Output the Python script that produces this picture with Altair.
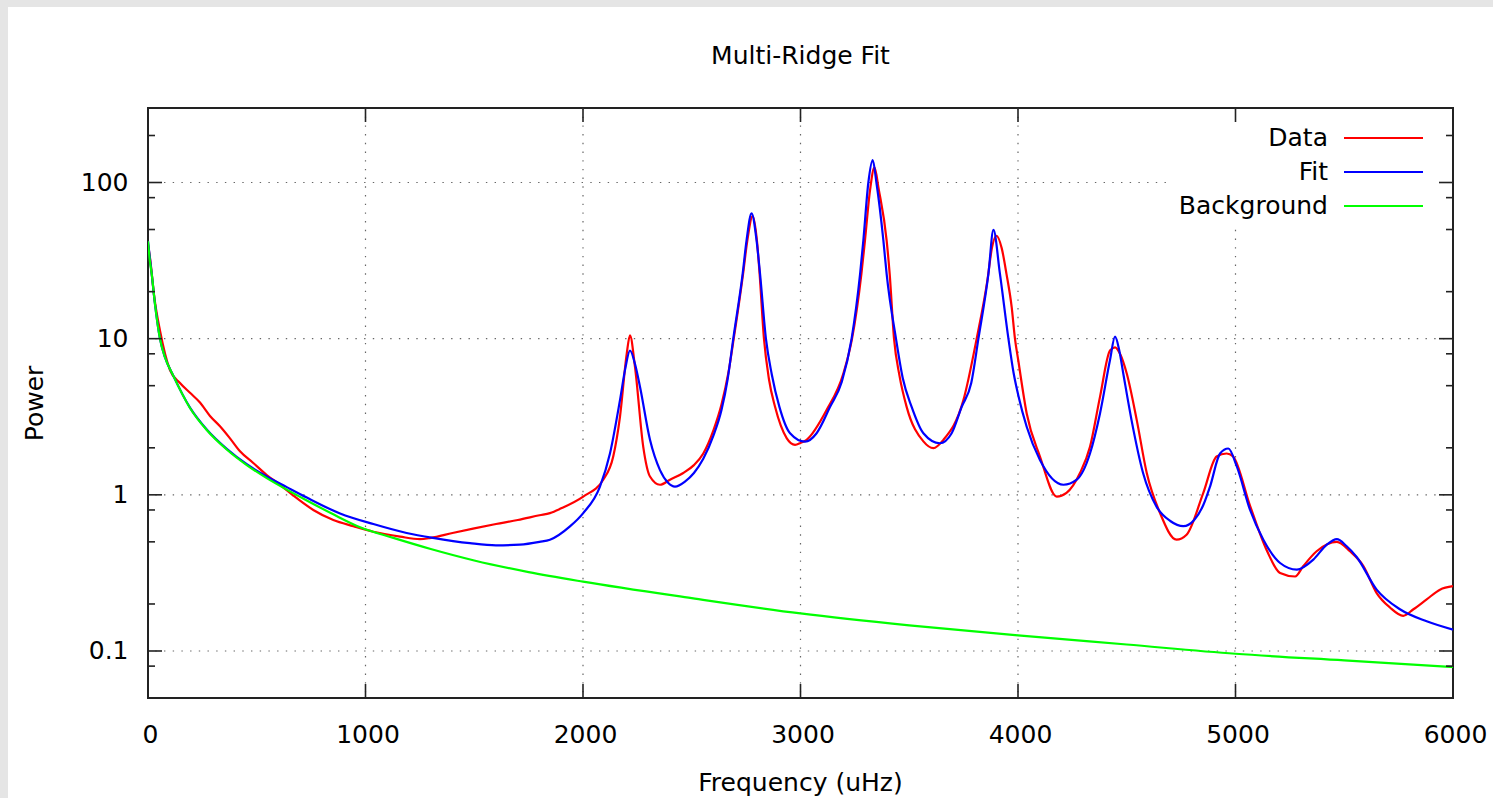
import altair as alt
import pandas as pd

TITLE = "Multi-Ridge Fit"
X_TITLE = "Frequency (uHz)"
Y_TITLE = "Power"
SERIES = ["Data", "Fit", "Background"]
COLORS = ["#ff0000", "#0000ff", "#00ff00"]

X_TICKS = [0, 1000, 2000, 3000, 4000, 5000, 6000]
Y_TICKS = [0.1, 1, 10, 100]
Y_MINOR = [0.08, 0.2, 0.5, 0.8, 2, 5, 8, 20, 50, 80, 200]
X_DOMAIN = [0, 6000]
Y_DOMAIN = [0.05, 300]

data_freq = [0, 9, 30, 55, 101, 147, 193, 239, 285, 331,
             377, 423, 484, 546, 607, 668, 760, 852, 944, 1036,
             1159, 1250, 1300, 1400, 1500, 1600, 1700, 1800, 1848, 1900,
             2001, 2093, 2139, 2170, 2201, 2216, 2239, 2277, 2308, 2354,
             2400, 2461, 2510, 2553, 2600, 2637, 2668, 2693, 2736, 2755,
             2780, 2800, 2812, 2832, 2855, 2883, 2937, 2975, 3000, 3028,
             3120, 3197, 3237, 3280, 3296, 3320, 3340, 3360, 3396, 3410,
             3430, 3455, 3488, 3565, 3611, 3657, 3749, 3810, 3860, 3880,
             3901, 3925, 3947, 3971, 3986, 4001, 4040, 4101, 4178, 4223,
             4285, 4331, 4377, 4423, 4446, 4469, 4500, 4546, 4592, 4653,
             4729, 4775, 4852, 4913, 4959, 4989, 5067, 5144, 5205, 5274,
             5312, 5373, 5466, 5526, 5588, 5649, 5710, 5771, 5818, 5879,
             5940, 6000]
data_power = [40, 33, 18, 11.3, 6.3, 5.2, 4.5, 3.9, 3.2, 2.75,
              2.3, 1.9, 1.6, 1.34, 1.16, 0.99, 0.80, 0.69, 0.63, 0.58,
              0.54, 0.52, 0.53, 0.57, 0.61, 0.65, 0.69, 0.74, 0.764, 0.82,
              0.975, 1.25, 1.76, 3.16, 8.0, 10.5, 6.6, 2.03, 1.31, 1.16,
              1.25, 1.38, 1.55, 1.84, 2.6, 3.8, 6.0, 10, 26, 42,
              61, 42, 26, 10, 5.5, 3.66, 2.3, 2.09, 2.15, 2.25,
              3.49, 5.98, 10, 26, 42, 90, 125, 90, 42.6, 26,
              10, 5.8, 3.66, 2.2, 1.99, 2.25, 4.04, 10, 24, 38,
              45.6, 38, 26, 15.9, 10, 7.3, 3.32, 1.76, 0.975, 1.03,
              1.38, 2.03, 4.24, 8.4, 8.8, 8.0, 5.98, 3.01, 1.38, 0.764,
              0.516, 0.555, 1.03, 1.76, 1.84, 1.76, 0.85, 0.44, 0.316, 0.30,
              0.35, 0.435, 0.50, 0.435, 0.35, 0.235, 0.19, 0.168, 0.185, 0.214,
              0.247, 0.26]

fit_freq = [0, 17, 32, 55, 78, 116, 193, 270, 362, 454,
            546, 638, 730, 883, 1036, 1189, 1310, 1480, 1600, 1710,
            1800, 1848, 1940, 2001, 2078, 2124, 2170, 2195, 2216, 2240,
            2262, 2308, 2354, 2390, 2423, 2470, 2510, 2553, 2600, 2637,
            2665, 2691, 2734, 2752, 2775, 2798, 2814, 2841, 2868, 2903,
            2952, 3021, 3074, 3136, 3190, 3235, 3274, 3289, 3312, 3332,
            3349, 3381, 3396, 3439, 3470, 3511, 3565, 3641, 3695, 3741,
            3785, 3818, 3864, 3887, 3917, 3956, 3980, 4002, 4040, 4101,
            4209, 4270, 4331, 4377, 4423, 4446, 4465, 4484, 4522, 4575,
            4637, 4700, 4760, 4810, 4852, 4883, 4929, 4967, 5006, 5067,
            5128, 5205, 5282, 5358, 5420, 5466, 5510, 5557, 5649, 5756,
            5879, 6000]
fit_power = [42, 26, 16.7, 10, 7.6, 5.8, 3.62, 2.62, 1.97, 1.57,
             1.31, 1.12, 0.96, 0.76, 0.65, 0.57, 0.53, 0.49, 0.475, 0.48,
             0.50, 0.516, 0.628, 0.764, 1.13, 1.84, 4.04, 6.5, 8.4, 6.8,
             4.92, 2.25, 1.44, 1.2, 1.13, 1.22, 1.38, 1.7, 2.4, 3.5,
             5.5, 10, 26, 42.6, 63.5, 42.6, 26, 10, 5.9, 3.66,
             2.48, 2.19, 2.48, 3.66, 5.3, 10, 26, 42.6, 100, 139,
             100, 42.6, 26, 10, 5.6, 3.66, 2.48, 2.14, 2.48, 3.66,
             5.2, 10, 26, 49.7, 26, 10, 6.0, 4.3, 2.73, 1.67,
             1.16, 1.25, 1.84, 3.32, 7.3, 10.3, 8.5, 5.98, 3.01, 1.38,
             0.84, 0.68, 0.63, 0.69, 0.86, 1.13, 1.84, 1.98, 1.52, 0.80,
             0.516, 0.366, 0.332, 0.385, 0.48, 0.52, 0.47, 0.40, 0.247, 0.185,
             0.155, 0.137]

bg_freq = [0, 8, 17, 32, 55, 78, 116, 193, 270, 362,
           454, 546, 638, 730, 852, 975, 1128, 1300, 1500, 1750,
           2000, 2500, 3000, 3500, 4000, 4500, 5000, 5500, 6000]
bg_power = [42, 32, 26, 16.7, 10, 7.6, 5.8, 3.6, 2.6, 1.95,
            1.55, 1.28, 1.08, 0.92, 0.75, 0.62, 0.53, 0.45, 0.38, 0.32,
            0.278, 0.218, 0.174, 0.146, 0.126, 0.11, 0.096, 0.087, 0.079]

FONT = "DejaVu Sans"
FS = 25
W, H = 1305, 590
PAD = {"left": 148, "top": 108, "right": 40, "bottom": 100}
TICK_COLOR = "#222222"
GRID_COLOR = "#666666"

xscale = alt.Scale(domain=X_DOMAIN, nice=False, zero=False)
yscale = alt.Scale(type="log", domain=Y_DOMAIN, nice=False)
cscale = alt.Scale(domain=SERIES, range=COLORS)

common_axis = dict(grid=False, ticks=False, tickSize=0, domain=False, zindex=1,
                   labelFont=FONT, labelFontSize=FS, labelColor="black",
                   titleFont=FONT, titleFontSize=FS, titleFontWeight="normal",
                   titleColor="black", labelFlush=False, labelOverlap=False)
x_axis = alt.Axis(values=X_TICKS, format="d", title=X_TITLE, labelPadding=44,
                  labelBaseline="alphabetic", labelOffset=2, titleX=652, titleY=92,
                  titleBaseline="alphabetic", titleAlign="center", **common_axis)
y_axis = alt.Axis(values=Y_TICKS, format="~g", title=Y_TITLE, labelPadding=20,
                  titleX=-106, titleY=295, titleAngle=270,
                  titleBaseline="alphabetic", titleAlign="center", **common_axis)


def one():
    return pd.DataFrame({"k": [0]})


def deco_rect(x, x2, y, y2, color):
    return alt.Chart(one()).mark_rect(color=color).encode(
        x=alt.value(x), x2=alt.value(x2), y=alt.value(y), y2=alt.value(y2))


def X(field):
    return alt.X(field, type="quantitative", scale=xscale, axis=x_axis)


def Y(field):
    return alt.Y(field, type="quantitative", scale=yscale, axis=y_axis)


def series_df(name, f, p):
    return pd.DataFrame({"freq": f, "power": p, "series": [name] * len(f)})


def line_layer(df):
    return alt.Chart(df).mark_line(strokeWidth=2.2, clip=True, interpolate="monotone").encode(
        x=X("freq"), y=Y("power"),
        color=alt.Color("series:N", scale=cscale, legend=None),
    )


gray_left = deco_rect(-148, -140, -108, 690, "#e5e5e5")
gray_top = deco_rect(-148, 1345, -108, -101, "#e5e5e5")

grid_dash = [1.4, 7.3]
vgrid = alt.Chart(pd.DataFrame({"v": X_TICKS[1:-1]})).mark_rule(
    color=GRID_COLOR, strokeWidth=1.2, strokeDash=grid_dash).encode(x=X("v"))
hgrid = alt.Chart(pd.DataFrame({"v": Y_TICKS})).mark_rule(
    color=GRID_COLOR, strokeWidth=1.2, strokeDash=grid_dash).encode(y=Y("v"))

key_clear = deco_rect(1019, 1303, 2, 117, "white")

data_line = line_layer(series_df("Data", data_freq, data_power))
fit_line = line_layer(series_df("Fit", fit_freq, fit_power))
bg_line = line_layer(series_df("Background", bg_freq, bg_power))

xt = pd.DataFrame({"v": X_TICKS})
yt = pd.DataFrame({"v": Y_TICKS})
ym = pd.DataFrame({"v": Y_MINOR})


def xtick(y, y2):
    return alt.Chart(xt).mark_rule(color=TICK_COLOR, strokeWidth=1.6).encode(
        x=X("v"), y=alt.value(y), y2=alt.value(y2))


def ytick(df, x, x2):
    return alt.Chart(df).mark_rule(color=TICK_COLOR, strokeWidth=1.6).encode(
        y=Y("v"), x=alt.value(x), x2=alt.value(x2))


ticks = [
    xtick(H - 14, H), xtick(0, 14),
    ytick(yt, 0, 14), ytick(yt, W - 14, W),
    ytick(ym, 0, 7), ytick(ym, W - 7, W),
]

# key (gnuplot style: label on the left, line sample on the right)
key_layers = []
for i, name in enumerate(SERIES):
    kdf = pd.DataFrame({"series": [name]})
    ky = 30 + 34 * i
    key_layers.append(
        alt.Chart(kdf).mark_text(align="right", baseline="middle", font=FONT,
                                 fontSize=FS, color="black").encode(
            text="series:N", x=alt.value(1180), y=alt.value(ky)))
    key_layers.append(
        alt.Chart(kdf).mark_rule(strokeWidth=2.2).encode(
            color=alt.Color("series:N", scale=cscale, legend=None),
            x=alt.value(1196), x2=alt.value(1275), y=alt.value(ky)))

chart = alt.layer(
    gray_left, gray_top, vgrid, hgrid, key_clear,
    data_line, fit_line, bg_line, *ticks, *key_layers,
).properties(
    width=W, height=H, padding=PAD,
    autosize=alt.AutoSizeParams(type="none"),
    background="white",
    title=alt.TitleParams(TITLE, font=FONT, fontSize=FS, fontWeight="normal",
                          color="black", anchor="middle", frame="group",
                          baseline="alphabetic", offset=0, dy=89),
).configure_view(
    stroke=TICK_COLOR, strokeWidth=2,
)

chart.save("out.html", embed_options={"renderer": "svg", "actions": False})
